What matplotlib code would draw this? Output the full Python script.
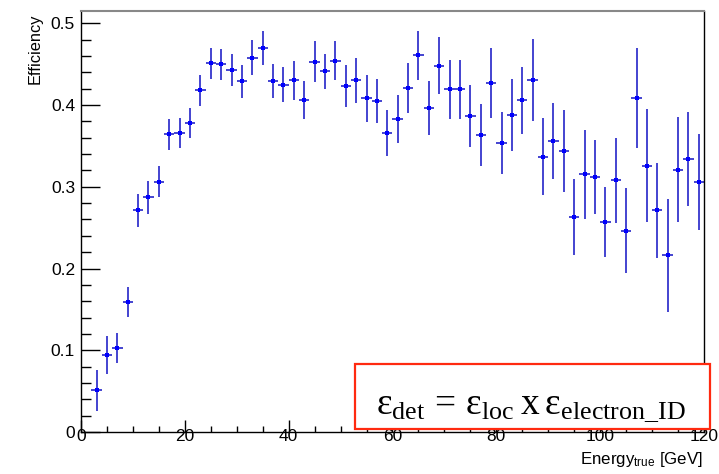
import matplotlib
matplotlib.use("Agg")
import matplotlib.pyplot as plt
from matplotlib.patches import Rectangle
from matplotlib.ticker import MultipleLocator, FixedLocator, FixedFormatter

plt.rcParams['font.family'] = ['Liberation Sans', 'DejaVu Sans']
plt.rcParams['mathtext.fontset'] = 'custom'
plt.rcParams['mathtext.rm'] = 'Liberation Serif'
plt.rcParams['mathtext.it'] = 'Liberation Serif:italic'
plt.rcParams['mathtext.bf'] = 'Liberation Serif:bold'

# Bin centres (GeV), bin half-width 1 GeV
energy = [3, 5, 7, 9, 11, 13, 15, 17, 19, 21, 23, 25, 27, 29, 31, 33, 35, 37, 39, 41,
          43, 45, 47, 49, 51, 53, 55, 57, 59, 61, 63, 65, 67, 69, 71, 73, 75, 77, 79, 81,
          83, 85, 87, 89, 91, 93, 95, 97, 99, 101, 103, 105, 107, 109, 111, 113, 115, 117, 119]
efficiency = [0.051, 0.094, 0.103, 0.159, 0.271, 0.287, 0.306, 0.364, 0.366, 0.378,
              0.418, 0.451, 0.450, 0.443, 0.429, 0.458, 0.470, 0.429, 0.425, 0.430,
              0.406, 0.453, 0.441, 0.454, 0.423, 0.430, 0.408, 0.405, 0.366, 0.383,
              0.421, 0.461, 0.396, 0.448, 0.419, 0.419, 0.387, 0.363, 0.427, 0.354,
              0.388, 0.406, 0.431, 0.337, 0.356, 0.344, 0.263, 0.315, 0.312, 0.257,
              0.308, 0.246, 0.409, 0.326, 0.271, 0.216, 0.321, 0.334, 0.306]
eff_err = [0.025, 0.023, 0.018, 0.018, 0.020, 0.020, 0.019, 0.019, 0.018, 0.018,
           0.019, 0.019, 0.019, 0.020, 0.020, 0.021, 0.021, 0.021, 0.021, 0.024,
           0.023, 0.025, 0.022, 0.024, 0.026, 0.027, 0.029, 0.027, 0.028, 0.029,
           0.031, 0.030, 0.033, 0.035, 0.036, 0.036, 0.038, 0.038, 0.043, 0.038,
           0.044, 0.041, 0.050, 0.047, 0.047, 0.050, 0.046, 0.055, 0.045, 0.043,
           0.052, 0.052, 0.061, 0.069, 0.058, 0.069, 0.064, 0.057, 0.059]
bin_half_width = [1.0] * len(energy)

x_major = [0, 20, 40, 60, 80, 100, 120]
x_labels = ['0', '20', '40', '60', '80', '100', '120']
y_major = [0, 0.1, 0.2, 0.3, 0.4, 0.5]
y_labels = ['0', '0.1', '0.2', '0.3', '0.4', '0.5']

W, H = 719, 474
fig = plt.figure(figsize=(W / 100, H / 100), dpi=100)
ax = fig.add_axes([81 / W, 1 - 432 / H, (704 - 81) / W, (432 - 11) / H])

ax.errorbar(energy, efficiency, yerr=eff_err, xerr=bin_half_width,
            fmt='s', color='#0000ff', markersize=3.2, markeredgewidth=0,
            ecolor='#2424c8', elinewidth=1.2, capsize=0)

ax.set_xlim(0, 120)
ax.set_ylim(0, 0.515)

ax.xaxis.set_major_locator(FixedLocator(x_major))
ax.xaxis.set_major_formatter(FixedFormatter(x_labels))
ax.xaxis.set_minor_locator(MultipleLocator(5))
ax.yaxis.set_major_locator(FixedLocator(y_major))
ax.yaxis.set_major_formatter(FixedFormatter(y_labels))
ax.yaxis.set_minor_locator(MultipleLocator(0.02))

ax.tick_params(axis='y', which='major', direction='in', length=13.7, width=1,
               labelsize=12.5, pad=4.3, right=False)
ax.tick_params(axis='y', which='minor', direction='in', length=7.2, width=1, right=False)
ax.tick_params(axis='x', which='major', direction='in', length=8.6, width=1,
               labelsize=12.5, pad=-2.5, top=False)
ax.tick_params(axis='x', which='minor', direction='in', length=4.3, width=1, top=False)

for s in ['left', 'bottom', 'right']:
    ax.spines[s].set_color('black')
    ax.spines[s].set_linewidth(1)
ax.spines['top'].set_color('#888888')
ax.spines['top'].set_linewidth(1.5)

fig.text(35 / W, 1 - 13 / H, 'Efficiency', rotation=90, ha='center', va='top',
         fontsize=11.8)
fig.text(703 / W, 1 - 464 / H, r'Energy$_{\mathregular{true}}$ [GeV]', ha='right',
         va='baseline', fontsize=12.2)

box = Rectangle((355 / W, 1 - 429 / H), (710 - 355) / W, (429 - 364) / H,
                transform=fig.transFigure, facecolor='white', edgecolor='#ff2a10',
                linewidth=1.6, zorder=10)
fig.patches.append(box)
fig.text(531 / W, 1 - 414 / H,
         r'$\mathrm{ε_{det}\,=\,ε_{loc}\:x\:ε_{electron\_ID}}$',
         ha='center', va='baseline', fontsize=26.8, zorder=11)

fig.savefig('out.png', dpi=100)
